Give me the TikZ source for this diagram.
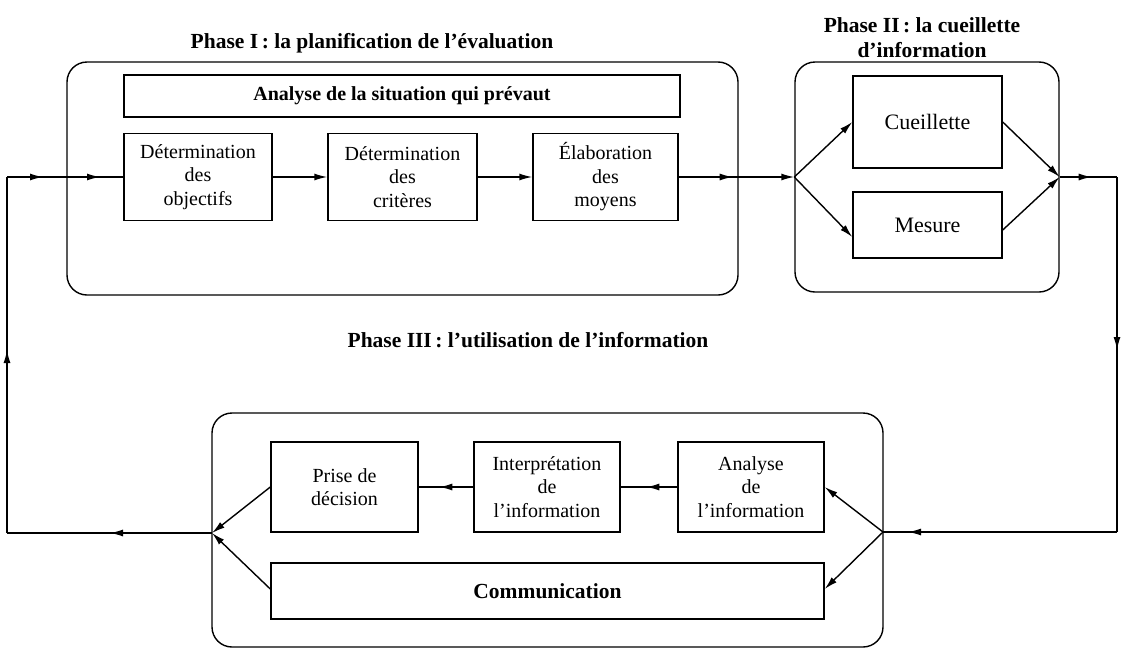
\documentclass[tikz,border=0pt]{standalone}
\usepackage{fontspec}
\setmainfont{Liberation Serif}
\usetikzlibrary{arrows.meta,decorations.markings}
\begin{document}
\begin{tikzpicture}[x=1pt,y=-1pt,
  line width=1.4pt,
  tip/.style={-{Latex[length=13pt,width=7pt]}},
  marrow/.style={postaction={decorate},decoration={markings,
     mark=at position #1 with {\arrow{Latex[length=13pt,width=7pt]}}}},
  marrowtwo/.style 2 args={postaction={decorate},decoration={markings,
     mark=at position #1 with {\arrow{Latex[length=13pt,width=7pt]}},
     mark=at position #2 with {\arrow{Latex[length=13pt,width=7pt]}}}},
  box/.style={draw,rectangle,inner sep=0pt,align=center,
     font=\fontsize{20}{23.5}\selectfont},
  bigbox/.style={box,font=\fontsize{22}{24}\selectfont},
  phase/.style={draw,rectangle,rounded corners=20pt,inner sep=0pt},
  title/.style={font=\fontsize{21.5}{25}\selectfont\bfseries,align=center,inner sep=0pt}
]
\useasboundingbox (0,0) rectangle (1123,648);

% Phase I
\node[phase,minimum width=671pt,minimum height=233pt] (p1) at (402.5,178.5) {};
\node[title,anchor=base] (t1) at (372,48) {Phase I\,: la planification de l’évaluation};
\node[box,minimum width=556pt,minimum height=42pt,font=\fontsize{20}{23.5}\selectfont\bfseries] (sit) at (402,96) {Analyse de la situation qui prévaut};
\node[box,minimum width=148pt,minimum height=87pt] (obj) at (198,177) {Détermination\\des\\objectifs};
\node[box,minimum width=149pt,minimum height=87pt] (crit) at (402.5,177) {Détermination\\des\\critères};
\node[box,minimum width=145pt,minimum height=87pt] (elab) at (605.5,177) {Élaboration\\des\\moyens};

% Phase II
\node[phase,minimum width=264pt,minimum height=230pt] (p2) at (927,177) {};
\node[title] (t2) at (922,38) {Phase II\,: la cueillette\\d’information};
\node[bigbox,minimum width=149pt,minimum height=92pt] (cue) at (927.5,122) {Cueillette};
\node[bigbox,minimum width=149pt,minimum height=66pt] (mes) at (927.5,225) {Mesure};

% Phase III
\node[title,anchor=base] (t3) at (528,347) {Phase III\,: l’utilisation de l’information};
\node[phase,minimum width=671pt,minimum height=234pt] (p3) at (547.5,530) {};
\node[box,minimum width=147pt,minimum height=90pt] (prise) at (344.5,487) {Prise de\\décision};
\node[box,minimum width=146pt,minimum height=90pt] (interp) at (547,487) {Interprétation\\de\\l’information};
\node[box,minimum width=146pt,minimum height=90pt] (ainfo) at (751,487) {Analyse\\de\\l’information};
\node[box,minimum width=553pt,minimum height=56pt,font=\fontsize{21.5}{24}\selectfont\bfseries] (comm) at (547.5,591) {Communication};

% junctions and corners
\coordinate (J1) at (p2.west);
\coordinate (J2) at (p2.east);
\coordinate (C1) at (1117,177);
\coordinate (C2) at (1117,532);
\coordinate (J3) at (883,532);
\coordinate (J4) at (212,533);
\coordinate (C3) at (7,533);
\coordinate (C4) at (7,177);

% Phase I flow
\draw[marrowtwo={36pt}{93pt}] (C4) -- (obj.west);
\draw[tip] (obj.east) -- (crit.west);
\draw[tip] (crit.east) -- (elab.west);
\draw[marrow=54pt,tip] (elab.east) -- (J1);

% Phase II flow
\draw[tip] (J1) -- (cue.west);
\draw[tip] (J1) -- ([yshift=-12pt]mes.west);
\draw[tip] (cue.east) -- (J2);
\draw[tip] ([yshift=-5pt]mes.east) -- (J2);
\draw[marrow=32pt] (J2) -- (C1);
\draw[marrow=173pt] (C1) -- (C2);
\draw[marrow=209pt] (C2) -- (J3);

% Phase III flow
\draw[tip] (J3) -- (ainfo.east);
\draw[tip] (J3) -- ([yshift=2pt]comm.east);
\draw[marrow=31pt] (ainfo.west) -- (interp.east);
\draw[marrow=34pt] (interp.west) -- (prise.east);
\draw[tip] (prise.west) -- (J4);
\draw[tip] ([yshift=2pt]comm.west) -- (J4);

% return loop
\draw[marrow=102pt] (J4) -- (C3);
\draw[marrow=183pt] (C3) -- (C4);
\end{tikzpicture}
\end{document}
